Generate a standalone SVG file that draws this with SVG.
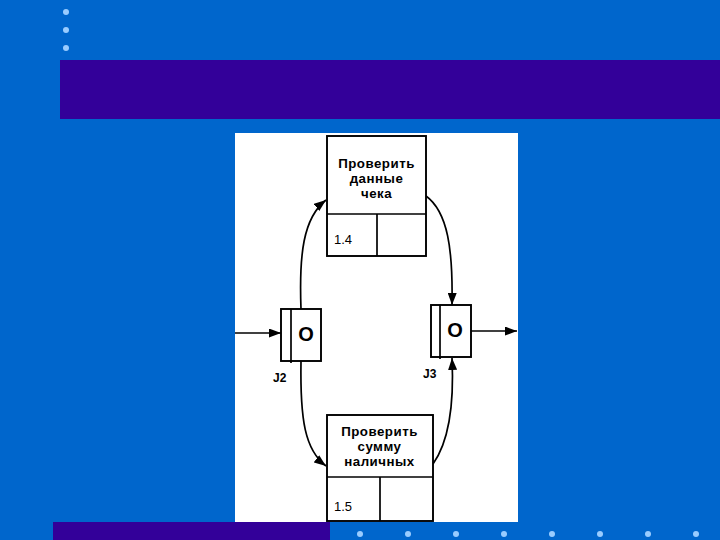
<svg xmlns="http://www.w3.org/2000/svg" width="720" height="540" viewBox="0 0 720 540">
<defs>
<style>
.box{fill:#fff;stroke:#000;stroke-width:1.9}
.ln{fill:none;stroke:#000;stroke-width:1.7}
.t{font-family:"Liberation Sans",Arial,sans-serif;font-weight:bold;font-size:13.3px;letter-spacing:0.5px;fill:#000;text-anchor:middle}
.n{font-family:"Liberation Sans",Arial,sans-serif;font-size:13px;fill:#000}
.o{font-family:"Liberation Sans",Arial,sans-serif;font-weight:bold;font-size:20px;fill:#000;text-anchor:middle}
.j{font-family:"Liberation Sans",Arial,sans-serif;font-weight:bold;font-size:12px;fill:#000}
.dot{fill:#99CCFF}
</style>
<marker id="ah" markerUnits="userSpaceOnUse" markerWidth="12" markerHeight="9" refX="12" refY="4.5" orient="auto">
<path d="M0,0 L12,4.5 L0,9 z" fill="#000"/>
</marker>
</defs>
<rect width="720" height="540" fill="#0066CC"/>
<rect x="60" y="60" width="660" height="59" fill="#330099"/>
<rect x="53" y="522" width="277" height="18" fill="#330099"/>
<g id="dots">
<circle class="dot" cx="66" cy="12" r="3"/>
<circle class="dot" cx="66" cy="30" r="3"/>
<circle class="dot" cx="66" cy="48" r="3"/>
<circle class="dot" cx="360" cy="534" r="3"/>
<circle class="dot" cx="408" cy="534" r="3"/>
<circle class="dot" cx="456" cy="534" r="3"/>
<circle class="dot" cx="504" cy="534" r="3"/>
<circle class="dot" cx="552" cy="534" r="3"/>
<circle class="dot" cx="600" cy="534" r="3"/>
<circle class="dot" cx="648" cy="534" r="3"/>
<circle class="dot" cx="696" cy="534" r="3"/>
</g>
<rect x="235" y="133" width="283" height="389" fill="#fff"/>
<g id="connectors">
<path class="ln" d="M235,333 L281,333" marker-end="url(#ah)"/>
<path class="ln" d="M471,331 L517,331" marker-end="url(#ah)"/>
<path class="ln" d="M301,309 C 299,255 303,218 326,200" marker-end="url(#ah)"/>
<path class="ln" d="M426,196 C 448,212 453,250 452,305" marker-end="url(#ah)"/>
<path class="ln" d="M301,361 C 300,420 305,450 326,466" marker-end="url(#ah)"/>
<path class="ln" d="M433,464 C 450,440 454,400 452,358" marker-end="url(#ah)"/>
</g>
<g id="node-1-4">
<rect class="box" x="327" y="136" width="99" height="120"/>
<line class="ln" x1="327" y1="214" x2="426" y2="214"/>
<line class="ln" x1="377" y1="214" x2="377" y2="256"/>
<text class="t" x="376.5" y="168">Проверить</text>
<text class="t" x="376.5" y="183">данные</text>
<text class="t" x="376.5" y="198">чека</text>
<text class="n" x="334" y="244">1.4</text>
</g>
<g id="node-1-5">
<rect class="box" x="327" y="415" width="106" height="106"/>
<line class="ln" x1="327" y1="477" x2="433" y2="477"/>
<line class="ln" x1="380" y1="477" x2="380" y2="521"/>
<text class="t" x="379.5" y="436">Проверить</text>
<text class="t" x="379.5" y="451">сумму</text>
<text class="t" x="379.5" y="466">наличных</text>
<text class="n" x="334" y="511">1.5</text>
</g>
<g id="J2">
<rect class="box" x="281" y="309" width="40" height="52"/>
<line class="ln" x1="291" y1="309" x2="291" y2="363"/>
<text class="o" x="306" y="341">O</text>
<text class="j" x="273" y="382">J2</text>
</g>
<g id="J3">
<rect class="box" x="431" y="305" width="40" height="52"/>
<line class="ln" x1="440" y1="305" x2="440" y2="359"/>
<text class="o" x="455" y="337">O</text>
<text class="j" x="423" y="378">J3</text>
</g>
</svg>
